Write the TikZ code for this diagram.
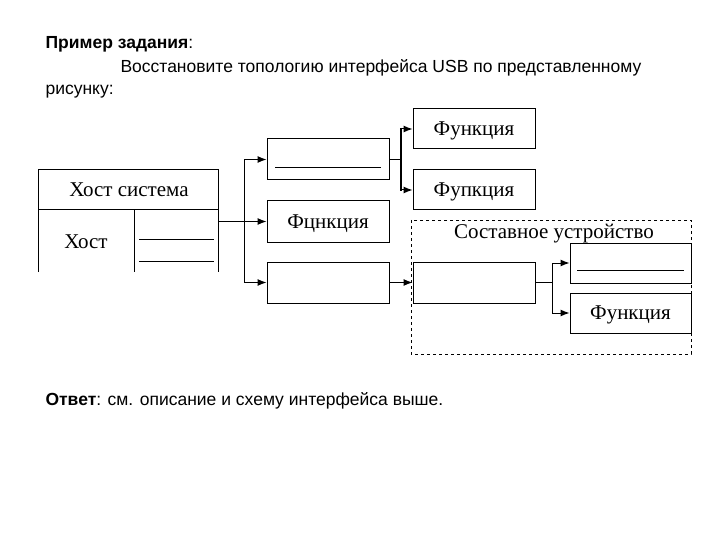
\documentclass[tikz,border=0pt]{standalone}
\usepackage{fontspec}
\setmainfont{Liberation Serif}
\newfontfamily\arial{Liberation Sans}
\usetikzlibrary{arrows.meta}
\begin{document}
\begin{tikzpicture}[x=1pt,y=-1pt,
  lbl/.style={font=\fontsize{21}{23}\selectfont},
  bx/.style={draw,line width=1pt,minimum width=122pt,minimum height=41pt,inner sep=0pt,text depth=0pt,lbl},
  ln/.style={line width=1pt},
  ar/.style={line width=1pt,-{Latex[length=9pt,width=7pt]}},
  hd/.style={anchor=base west,font=\arial\fontsize{17.5}{20}\selectfont}]
\useasboundingbox (0,0) rectangle (720,540);
% header text
\node[hd] (t1) at (42,49) {\textbf{Пример задания}:};
\node[hd] (t2) at (117,73) {Восстановите топологию интерфейса USB по представленному};
\node[hd] (t3) at (42,95) {рисунку:};
\node[hd] (t4) at (42,405) {\textbf{Ответ}: см. описание и схему интерфейса выше.};
% host system
\draw[ln] (38,272) -- (38,170) -- (218,170) -- (218,272);
\draw[ln] (38,210) -- (218,210);
\draw[ln] (134,210) -- (134,272);
\draw[ln] (139,239) -- (214,239);
\draw[ln] (139,261) -- (214,261);
\node[lbl] (hs) at (129,190) {Хост система};
\node[lbl] (h) at (86,242) {Хост};
\coordinate (hout) at (218,221.5);
% boxes
\node[bx] (b1) at (328,159.5) {};
\draw[ln] (275,168) -- (381,168);
\node[bx] (b2) at (328,221.5) {Фцнкция};
\node[bx] (b3) at (328,282.5) {};
\node[bx,minimum height=40pt] (f1) at (474,129) {Функция};
\node[bx,minimum height=40pt] (f2) at (474,190) {Фупкция};
\draw[dashed,line width=0.9pt] (411,220) rectangle (691,354);
\node[lbl] (cd) at (554,234) {Составное устройство};
\node[bx] (b4) at (474,282.5) {};
\node[bx,minimum width=121pt,minimum height=40pt] (f3) at (630.5,263) {};
\draw[ln] (577,270) -- (684,270);
\node[bx,minimum width=121pt,minimum height=40pt] (f4) at (630.5,313) {Функция};
% connectors
\draw[ar] (hout) -- (b2.west);
\draw[ln] (244,159.5) -- (244,282.5);
\draw[ar] (244,159.5) -- (b1.west);
\draw[ar] (244,282.5) -- (b3.west);
\draw[ln] (b1.east) -- (401,159.5);
\draw[line width=2.2pt] (401,128) -- (401,191);
\draw[ar] (401,129) -- (f1.west);
\draw[ar] (401,190) -- (f2.west);
\draw[ar] (b3.east) -- (b4.west);
\draw[ln] (b4.east) -- (552,282.5);
\draw[ln] (552,263) -- (552,313);
\draw[ar] (552,263) -- (f3.west);
\draw[ar] (552,313) -- (f4.west);
\end{tikzpicture}
\end{document}
